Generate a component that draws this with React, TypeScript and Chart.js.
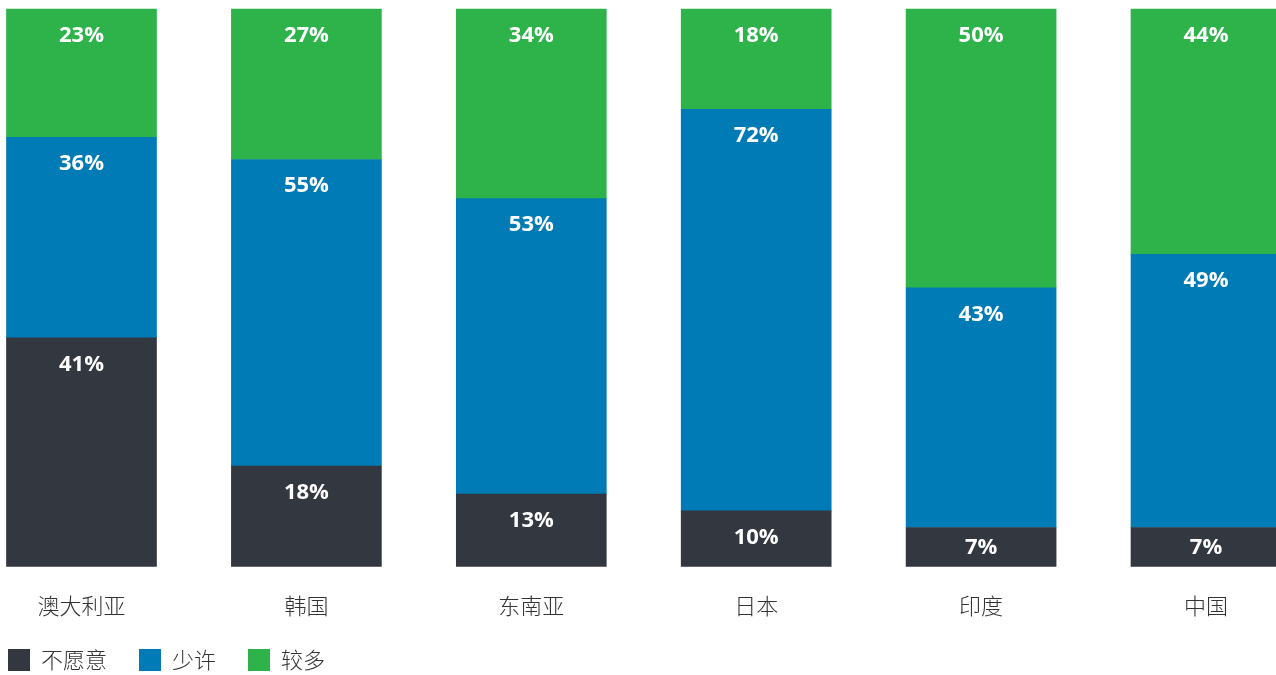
import React, { useEffect, useRef } from "react";
import { Chart, registerables } from "chart.js";

Chart.register(...registerables);

const categories = ["澳大利亚", "韩国", "东南亚", "日本", "印度", "中国"];
const seriesNames = ["不愿意", "少许", "较多"];
const unwilling = [41, 18, 13, 10, 7, 7];
const some = [36, 55, 53, 72, 43, 49];
const more = [23, 27, 34, 18, 50, 44];
const seriesColors = ["#33373f", "#007bb6", "#2db34a"];

const CJK = "'Noto Sans CJK SC', 'Noto Sans', sans-serif";

export default function App() {
  const ref = useRef<HTMLCanvasElement | null>(null);

  useEffect(() => {
    if (!ref.current) return;
    const seriesValues = [unwilling, some, more];
    const totals = categories.map((_, i) => seriesValues.reduce((s, arr) => s + arr[i], 0));

    const labelPlugin = {
      id: "segLabels",
      afterDatasetsDraw(chart: any) {
        const ctx = chart.ctx;
        ctx.save();
        ctx.font = "bold 22px 'Open Sans', 'DejaVu Sans', sans-serif";
        ctx.fillStyle = "#ffffff";
        ctx.textAlign = "center";
        ctx.textBaseline = "middle";
        chart.data.datasets.forEach((ds: any, di: number) => {
          const meta = chart.getDatasetMeta(di);
          meta.data.forEach((el: any, i: number) => {
            const y = Math.min(el.y + 26.5, (el.y + el.base) / 2 + 0.5);
            ctx.fillText(ds.rawValues[i] + "%", el.x, y);
          });
        });
        ctx.restore();
      },
    };

    const layoutTweak = {
      id: "layoutTweak",
      afterLayout(chart: any) {
        const l = chart.legend;
        if (l) {
          l.left += 8 - 32;
          l.right += 8 - 32;
          l.top += 6;
          l.bottom += 6;
        }
        const x = chart.scales.x;
        if (x) {
          x.bottom += 20;
          x.height += 20;
        }
      },
    };

    const chart = new Chart(ref.current, {
      type: "bar",
      data: {
        labels: categories,
        datasets: seriesValues.map((vals, si) => ({
          label: seriesNames[si],
          data: vals.map((v, i) => (v / totals[i]) * 100),
          rawValues: vals,
          backgroundColor: seriesColors[si],
          borderWidth: 0,
          barThickness: 150,
          clip: false,
        })) as any,
      },
      options: {
        animation: false,
        responsive: false,
        layout: { padding: { top: 9, right: 70, left: 0, bottom: 0 } },
        plugins: {
          tooltip: { enabled: false },
          legend: {
            position: "bottom",
            align: "start",
            labels: {
              boxWidth: 22,
              boxHeight: 22,
              padding: 32,
              color: "#333333",
              font: { family: CJK, size: 22, weight: 300 as any },
            },
          },
        },
        scales: {
          x: {
            stacked: true,
            offset: false,
            grid: { display: false, drawTicks: false },
            border: { display: false },
            ticks: {
              padding: 26,
              color: "#333333",
              autoSkip: false,
              maxRotation: 0,
              font: { family: CJK, size: 22, weight: 300 as any },
            },
            afterFit: (s: any) => {
              s.height = 44.5;
            },
          },
          y: {
            stacked: true,
            min: 0,
            max: 100,
            grid: { display: false, drawTicks: false },
            border: { display: false },
            ticks: { display: false },
            afterFit: (s: any) => {
              s.width = 81.5;
            },
          },
        },
      },
      plugins: [labelPlugin, layoutTweak],
    });
    return () => chart.destroy();
  }, []);

  return (
    <>
      <style>{"body{margin:0;background:#fff;}"}</style>
      <canvas ref={ref} width={1276} height={675} style={{ display: "block" }} />
    </>
  );
}
